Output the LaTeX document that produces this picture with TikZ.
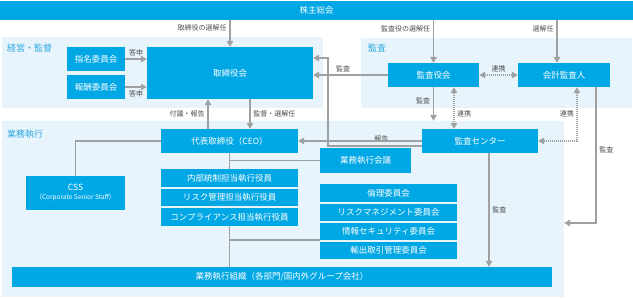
\documentclass[tikz,border=0pt]{standalone}
\usepackage{fontspec}
\setmainfont{Noto Sans CJK JP}
\usetikzlibrary{arrows.meta,calc}
\definecolor{boxblue}{HTML}{00A7E5}
\definecolor{panelbg}{HTML}{E7F4FC}
\definecolor{arrgray}{HTML}{A0A0A0}
\definecolor{lblgray}{HTML}{4D4D4D}
\definecolor{titleblue}{HTML}{2EA7E0}
\tikzset{
  box/.style={fill=boxblue,text=white,inner sep=0pt,font=\fontsize{8.5}{10}\selectfont},
  panel/.style={fill=panelbg,inner sep=0pt},
  ptitle/.style={text=titleblue,font=\fontsize{9}{10}\selectfont,anchor=west,inner sep=0pt},
  lbl/.style={text=lblgray,font=\fontsize{7}{8}\selectfont,inner sep=2.5pt},
  arr/.style={draw=arrgray,line width=1.8pt,-{Triangle[width=6.5pt,length=6pt]}},
  dotarr/.style={draw=arrgray,line width=1.4pt,dash pattern=on 1.1pt off 0.9pt,{Triangle[width=6.5pt,length=6pt]}-{Triangle[width=6.5pt,length=6pt]}},
  conn/.style={draw=arrgray,line width=1.8pt},
}
\begin{document}
\begin{tikzpicture}[x=1pt,y=-1pt]
\useasboundingbox (0,0) rectangle (633,298);
% panels
\node[panel,minimum width=321pt,minimum height=71pt] (pA) at (162.5,72.5) {};
\node[panel,minimum width=271pt,minimum height=70pt] (pB) at (496.5,73) {};
\node[panel,minimum width=562pt,minimum height=176pt] (pC) at (283,209) {};
\node[ptitle] (tA) at (7,48) {経営・監督};
\node[ptitle] (tB) at (368,48) {監査};
\node[ptitle] (tC) at (7,134) {業務執行};
% boxes
\node[box,minimum width=633pt,minimum height=19pt] (top) at (316.5,10.5) {株主総会};
\node[box,minimum width=58pt,minimum height=24pt] (nom) at (96,59) {指名委員会};
\node[box,minimum width=58pt,minimum height=24pt] (rem) at (96,87) {報酬委員会};
\node[box,minimum width=166pt,minimum height=52pt] (board) at (230,73) {取締役会};
\node[box,minimum width=91pt,minimum height=24pt] (kansa) at (433.5,75) {監査役会};
\node[box,minimum width=92pt,minimum height=24pt] (audit) at (564,75) {会計監査人};
\node[box,minimum width=137pt,minimum height=24pt] (ceo) at (229.5,141) {代表取締役（CEO）};
\node[box,minimum width=116pt,minimum height=24pt] (center) at (480,141) {監査センター};
\node[box,minimum width=91pt,minimum height=25pt] (kaigi) at (365.5,160.5) {業務執行会議};
\node[box,minimum width=99pt,minimum height=34pt,align=center] (css) at (75.5,193) {CSS\\[-1pt]{\fontsize{6.5}{7.5}\selectfont （Corporate Senior Staff）}};
\node[box,minimum width=137pt,minimum height=18pt] (ex1) at (229.5,178) {内部統制担当執行役員};
\node[box,minimum width=137pt,minimum height=17pt] (ex2) at (229.5,197.5) {リスク管理担当執行役員};
\node[box,minimum width=137pt,minimum height=18pt] (ex3) at (229.5,217) {コンプライアンス担当執行役員};
\node[box,minimum width=137pt,minimum height=18pt] (c1) at (388.5,193) {倫理委員会};
\node[box,minimum width=137pt,minimum height=17pt] (c2) at (388.5,212.5) {リスクマネジメント委員会};
\node[box,minimum width=137pt,minimum height=17pt] (c3) at (388.5,231.5) {情報セキュリティ委員会};
\node[box,minimum width=137pt,minimum height=17pt] (c4) at (388.5,250.5) {輸出取引管理委員会};
\node[box,minimum width=540pt,minimum height=20pt] (org) at (282,277) {業務執行組織（各部門/国内外グループ会社）};
% helper coordinates
\coordinate (aTop) at ([xshift=-7pt]audit.north);
\coordinate (ceoL) at ([xshift=-21.5pt]ceo.north);
\coordinate (ceoR) at ([xshift=20.5pt]ceo.north);
\coordinate (kcR) at ([xshift=20.5pt]kansa.south);
\coordinate (aDot) at ([xshift=13pt]audit.south);
\coordinate (aAud) at ([xshift=32pt]audit.south);
\coordinate (cRep) at ([yshift=-5pt]center.west);
\coordinate (bRep) at ([yshift=15pt]board.east);
\coordinate (cAud) at ([xshift=9pt]center.south);
% connectors from shareholders
\draw[arr] (top.south -| board.north) -- node[lbl,left,pos=0.3] {取締役の選解任} (board.north);
\draw[arr] (top.south -| kansa.north) -- node[lbl,left,pos=0.2] {監査役の選解任} (kansa.north);
\draw[arr] (top.south -| aTop) -- node[lbl,left,pos=0.2] {選解任} (aTop);
% committees to board
\draw[arr] (nom.east) -- node[lbl,above] {答申} (board.west |- nom.east);
\draw[arr] (rem.east) -- node[lbl,below] {答申} (board.west |- rem.east);
% board <-> CEO
\draw[arr] (ceoL) -- node[lbl,left] {付議・報告} (board.south -| ceoL);
\draw[arr] (board.south -| ceoR) -- node[lbl,right] {監督・選解任} (ceoR);
% audit
\draw[arr] (kansa.west) -- node[lbl,above,pos=0.6] {監査} (board.east |- kansa.west);
\draw[dotarr] (kansa.east) -- node[lbl,above] {連携} (audit.west);
\draw[arr] (kansa.south) -- node[lbl,left,pos=0.4] {監査} (kansa.south |- pC.north);
\draw[dotarr] (kcR) -- node[lbl,right,pos=0.65] {連携} (center.north -| kcR);
\draw[dotarr] (aDot) |- node[lbl,left,pos=0.25] {連携} (center.east);
\draw[arr] (aAud) |- node[lbl,right,pos=0.23] {監査} (pC.east |- 0,223);
\draw[arr] (cRep) -- node[lbl,above,pos=0.43] {報告} (cRep -| 328,0) -- (bRep -| 328,0) -- (bRep);
\draw[arr] (center.west) -- (ceo.east);
\draw[arr] (cAud) -- node[lbl,right] {監査} (org.north -| cAud);
% execution structure
\draw[conn] (ceo.west) -| (css.north);
\draw[conn] (ceo.south) -- (ex1.north);
\draw[conn] (ex3.south) -- (org.north -| ex3.south);
\draw[conn] (ceo.south |- kaigi.west) -- (kaigi.west);
\draw[conn] (ex3.south |- c3.south west) -- (c3.south west);
\end{tikzpicture}
\end{document}
